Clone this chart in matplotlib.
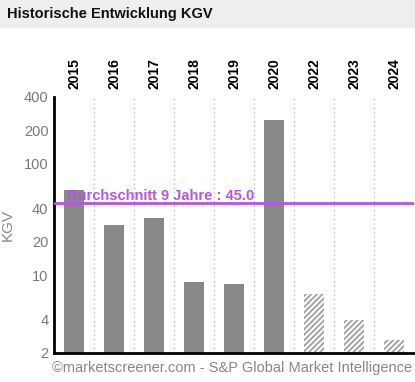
import numpy as np
import matplotlib.pyplot as plt

plt.rcParams['font.family'] = ['Liberation Sans', 'DejaVu Sans']
plt.rcParams['hatch.linewidth'] = 1.3

years = ['2015', '2016', '2017', '2018', '2019', '2020', '2022', '2023', '2024']
kgv = [58, 28.3, 32.7, 8.7, 8.3, 248, 6.8, 4.0, 2.6]
estimate = [False, False, False, False, False, False, True, True, True]
mean_kgv = 45.0
yticks = [2, 4, 10, 20, 40, 100, 200, 400]

fig = plt.figure(figsize=(4.15, 3.82), dpi=100)
# title bar
fig.patches.append(plt.Rectangle((0, 1 - 27 / 382), 1, 27 / 382, transform=fig.transFigure,
                                 color='#eeeeee', zorder=0))
fig.text(7 / 415, 1 - 14 / 382, 'Historische Entwicklung KGV', fontsize=10.5,
         fontweight='bold', va='center', ha='left', color='#111111')

ax = fig.add_axes([54 / 415, 1 - 353 / 382, 360 / 415, 256 / 382])
x = np.arange(len(years))
for i in range(len(years)):
    if estimate[i]:
        ax.bar(x[i], kgv[i], width=0.5, color='white', edgecolor='#a0a0a0',
               hatch='//////', linewidth=0, zorder=2)
    else:
        ax.bar(x[i], kgv[i], width=0.5, color='#888888', zorder=2)

ax.set_yscale('log')
ax.set_ylim(2, 400)
ax.set_xlim(-0.5, len(years) - 0.5)
ax.set_yticks(yticks)
ax.set_yticklabels([str(t) for t in yticks])
ax.minorticks_off()
ax.tick_params(axis='y', length=0, labelsize=10.5, labelcolor='#7a7a7a', pad=4)

# year labels on top
ax.set_xticks(x)
ax.set_xticklabels(years, rotation=90, fontweight='bold', fontsize=10)
ax.xaxis.tick_top()
ax.tick_params(axis='x', length=0, pad=6, labelcolor='black')

for xi in x[:-1]:
    ax.axvline(xi + 0.5, color='#aaaaaa', linestyle=(0, (1, 3)), linewidth=0.8, zorder=1)

ax.axhline(mean_kgv, color='#b653e8', linewidth=2, zorder=3)
ax.text(-0.18, mean_kgv * 1.0, 'Durchschnitt 9 Jahre : 45.0', color='#b653e8',
        fontsize=10.5, fontweight='bold', va='bottom', ha='left', zorder=4)

for s in ['top', 'right']:
    ax.spines[s].set_visible(False)
ax.spines['left'].set_linewidth(2)
ax.spines['bottom'].set_linewidth(2)

fig.text(8 / 415, 1 - 225 / 382, 'KGV', rotation=90, fontsize=11,
         color='#888888', va='center', ha='center')
fig.text(52 / 415, 1 - 368 / 382, '©marketscreener.com - S&P Global Market Intelligence',
         fontsize=10.5, color='#888888', va='center', ha='left')

fig.savefig('out.png', dpi=100)
